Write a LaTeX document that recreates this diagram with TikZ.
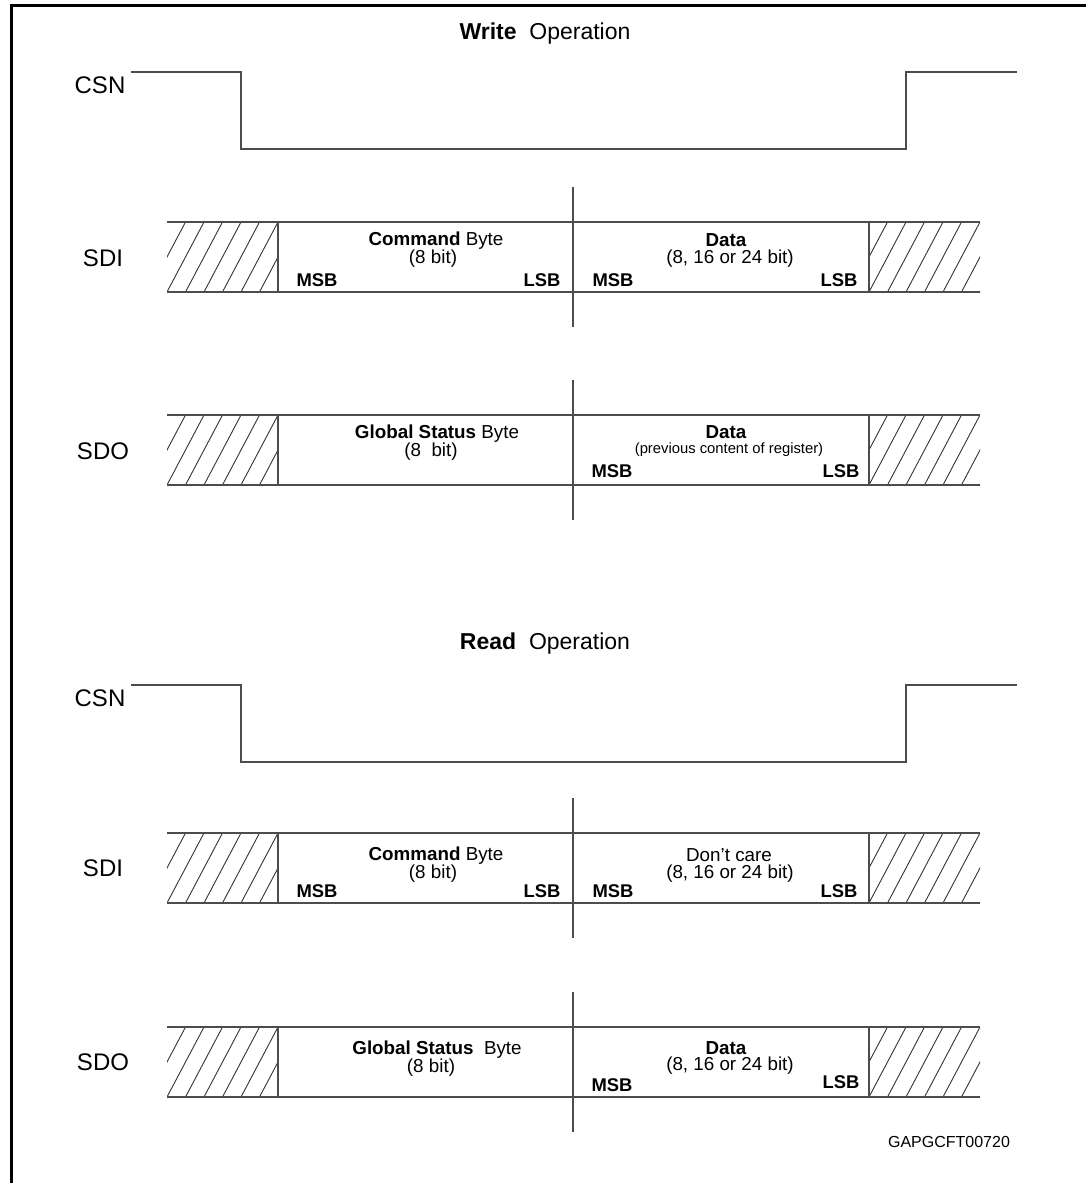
\documentclass[tikz,border=0pt]{standalone}
\usepackage{fontspec}
\setmainfont{Liberation Sans}
\usetikzlibrary{positioning}
\tikzset{
  sig/.style={black!70, line width=0.65pt},
  hatch/.style={black!80, line width=0.45pt},
  lbl/.style={font=\fontsize{12}{14}\selectfont, inner sep=0pt},
  ttl/.style={font=\fontsize{11.5}{14}\selectfont, inner sep=0pt},
  txt/.style={font=\fontsize{9.4}{11}\selectfont, inner sep=0pt},
  sml/.style={font=\fontsize{7.4}{9}\selectfont, inner sep=0pt},
  bit/.style={font=\bfseries\fontsize{9.2}{11}\selectfont, inner sep=0pt},
  code/.style={font=\fontsize{8}{10}\selectfont, inner sep=0pt}
}
\begin{document}
\begin{tikzpicture}[x=0.5pt,y=-0.5pt]
\useasboundingbox (0,0) rectangle (1086,1183);
% frame
\draw[line width=1.5pt] (11.5,1183) -- (11.5,5.5) -- (1086,5.5);

% chip select waveforms
\foreach \c in {72,685}
  \draw[sig] (131,\c) -- (241,\c) -- (241,\c+77) -- (906,\c+77) -- (906,\c) -- (1017,\c);

% serial frames (top edge y)
\foreach \t in {222,415,833,1027}{
  \foreach \x in {167,869}{
    \begin{scope}
      \clip (\x,\t) rectangle (\x+111,\t+70);
      \foreach \k in {-2,...,6}
        \draw[hatch] (\x+\k*18.5,\t+70) -- ++(37,-70);
    \end{scope}
  }
  \draw[sig] (167,\t) -- (980,\t);
  \draw[sig] (167,\t+70) -- (980,\t+70);
  \draw[sig] (278,\t) -- (278,\t+70);
  \draw[sig] (869,\t) -- (869,\t+70);
  \draw[sig] (573,\t-35) -- (573,\t+105);
}

% Write Operation
\node[ttl] (wtitle) at (545,34) {\textbf{Write}\ \ Operation};
\node[lbl] (wcsn) at (100,85) {CSN};
\node[lbl] (wsdi) at (103,258) {SDI};
\node[lbl] (wsdo) at (103,451) {SDO};
\node[txt] (wcmd) at (436,241) {\textbf{Command} Byte};
\node[txt] (wcmdn) at (433,259) {(8 bit)};
\node[bit] (wcmsb) at (317,280) {MSB};
\node[bit] (wclsb) at (542,280) {LSB};
\node[txt] (wdat) at (726,240) {\textbf{Data}};
\node[txt] (wdatn) at (730,259) {(8, 16 or 24 bit)};
\node[bit] (wdmsb) at (613,280) {MSB};
\node[bit] (wdlsb) at (839,280) {LSB};
\node[txt] (wgsb) at (437,434) {\textbf{Global Status} Byte};
\node[txt] (wgsbn) at (431,452) {(8\ \ bit)};
\node[txt] (wold) at (726,432) {\textbf{Data}};
\node[sml] (woldn) at (729,450) {(previous content of register)};
\node[bit] (womsb) at (612,471) {MSB};
\node[bit] (wolsb) at (841,471) {LSB};

% Read Operation
\node[ttl] (rtitle) at (545,644) {\textbf{Read}\ \ Operation};
\node[lbl] (rcsn) at (100,698) {CSN};
\node[lbl] (rsdi) at (103,868) {SDI};
\node[lbl] (rsdo) at (103,1062) {SDO};
\node[txt] (rcmd) at (436,856) {\textbf{Command} Byte};
\node[txt] (rcmdn) at (433,874) {(8 bit)};
\node[bit] (rcmsb) at (317,891) {MSB};
\node[bit] (rclsb) at (542,891) {LSB};
\node[txt] (rdc) at (729,855) {Don’t care};
\node[txt] (rdcn) at (730,874) {(8, 16 or 24 bit)};
\node[bit] (rdmsb) at (613,891) {MSB};
\node[bit] (rdlsb) at (839,891) {LSB};
\node[txt] (rgsb) at (437,1050) {\textbf{Global Status}\ \ Byte};
\node[txt] (rgsbn) at (431,1068) {(8 bit)};
\node[txt] (rdat) at (726,1048) {\textbf{Data}};
\node[txt] (rdatn) at (730,1066) {(8, 16 or 24 bit)};
\node[bit] (rdomsb) at (612,1085) {MSB};
\node[bit] (rdolsb) at (841,1082) {LSB};

\node[code] (figid) at (949,1142) {GAPGCFT00720};
\end{tikzpicture}
\end{document}
